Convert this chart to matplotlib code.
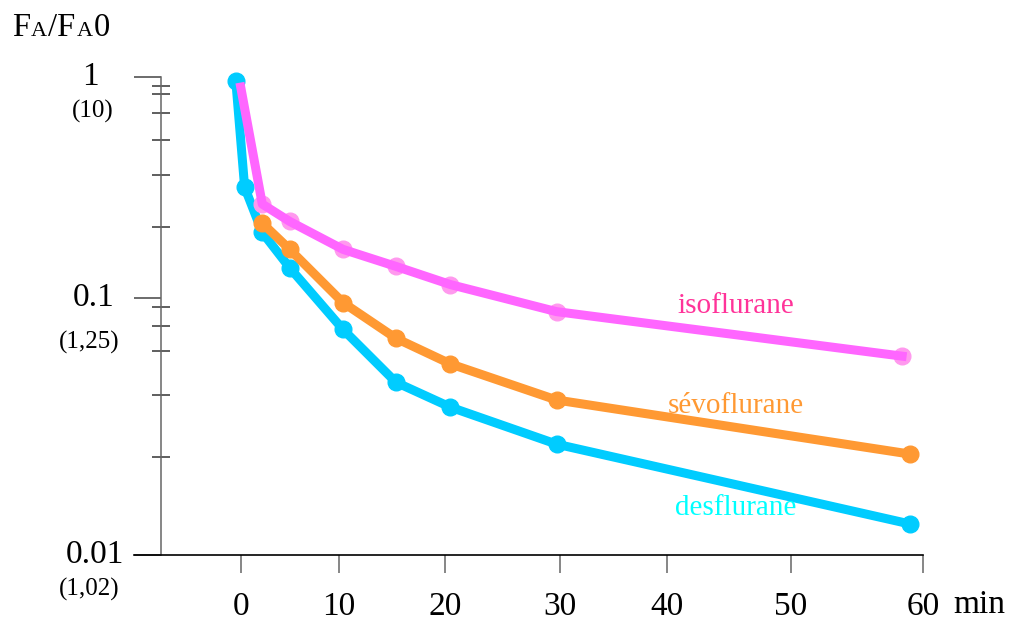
import matplotlib
matplotlib.use("Agg")
import matplotlib.pyplot as plt
import numpy as np

plt.rcParams['font.family'] = ['Liberation Serif', 'DejaVu Serif']

# data (time in min, FA/FA0)
des_t = [-0.5, 0.4, 2.2, 5.0, 10.4, 15.4, 20.5, 29.7, 59.0]
des_y = [0.96, 0.317, 0.198, 0.137, 0.0755, 0.047, 0.0376, 0.027, 0.0132]
sevo_t = [2.2, 5.0, 10.4, 15.4, 20.5, 29.7, 59.0]
sevo_y = [0.218, 0.166, 0.096, 0.0697, 0.0554, 0.0401, 0.0247]
iso_t = [0.0, 2.2, 5.0, 10.4, 15.4, 20.5, 29.7, 58.4]
iso_y = [0.90, 0.266, 0.222, 0.166, 0.139, 0.115, 0.0885, 0.0594]

x_ticks = [0, 10, 20, 30, 40, 50, 60]
y_major = [0.01, 0.1, 1]
y_major_labels = ['0.01', '0.1', '1']
y_sub_labels = ['(1,02)', '(1,25)', '(10)']
y_minor = [0.91, 0.84, 0.69, 0.52, 0.36, 0.21, 0.092, 0.078, 0.062, 0.042, 0.024]

# the hand drawn axes are not evenly spaced -> piecewise scales
XB = np.array([-20, 0, 10, 20, 30, 40, 50, 60, 80])
XP = np.array([-196, 0, 98, 204, 319.3, 426, 550, 682.6, 947.8])
YB = np.array([-3, -2, -1, 0, 1])
YP = np.array([-735, -478, -221, 0, 221])

def xf(x):
    return np.interp(x, XB, XP)

def xi(p):
    return np.interp(p, XP, XB)

def yf(y):
    return np.interp(np.log10(np.clip(y, 1e-6, None)), YB, YP)

def yi(p):
    return 10 ** np.interp(p, YP, YB)

W, H = 1014, 625
fig = plt.figure(figsize=(W / 100, H / 100), dpi=100)
ax = fig.add_axes([134 / W, 70 / H, (923.3 - 134) / W, 478 / H])
ax.set_xscale('function', functions=(xf, xi))
ax.set_yscale('function', functions=(yf, yi))

ax.plot(des_t, des_y, color='#00CCFF', lw=6.5, marker='o', ms=12, clip_on=False, zorder=3)
ax.plot(sevo_t, sevo_y, color='#FF9933', lw=6.5, marker='o', ms=12, clip_on=False, zorder=4)
ax.plot(iso_t[1:], iso_y[1:], ls='none', marker='o', ms=12, color='#FF99EE', clip_on=False, zorder=5)
ax.plot(iso_t, iso_y, color='#FF66FF', lw=6.5, clip_on=False, zorder=6)

ax.set_xlim(-10.89, 60)
ax.set_ylim(0.01, 1)

for s in ['top', 'right']:
    ax.spines[s].set_visible(False)
ax.spines['left'].set_position(('data', -8.13))
ax.spines['left'].set_color('#666666')
ax.spines['left'].set_linewidth(1.1)
ax.spines['bottom'].set_color('black')
ax.spines['bottom'].set_linewidth(1.2)

ax.set_xticks(x_ticks)
ax.set_xticklabels([str(v) for v in x_ticks])
ax.set_yticks(y_major)
ax.set_yticklabels([''] * len(y_major))
ax.set_yticks(y_minor, minor=True)
ax.set_yticklabels([''] * len(y_minor), minor=True)
ax.tick_params(axis='x', direction='out', length=13, width=1.1, color='#666666',
               labelsize=24, pad=13)
ax.tick_params(axis='y', which='major', direction='out', length=19.5, width=1.1, color='#444444')
ax.tick_params(axis='y', which='minor', direction='inout', length=13, width=1.1, color='#333333')

# y labels, placed by hand like the original drawing
main_x = [124, 115, 99]
sub_x = [120, 120, 114]
sub_dy = [-34, -44, -34]
for v, lab, mx, sub, sx, dy in zip(y_major, y_major_labels, main_x, y_sub_labels, sub_x, sub_dy):
    ax.annotate(lab, xy=(mx, v), xycoords=('figure pixels', 'data'), ha='right', va='center',
                fontsize=24, annotation_clip=False)
    ax.annotate(sub, xy=(sx, v), xycoords=('figure pixels', 'data'), xytext=(0, dy * 0.72),
                textcoords='offset points', ha='right', va='center', fontsize=18,
                annotation_clip=False)

fig.text(953 / W, 12 / H, 'min', fontsize=24, va='baseline', ha='left')

# series names
fig.text(736 / W, (H - 313) / H, 'isoflurane', color='#FF3399', fontsize=21, ha='center', va='baseline')
fig.text(736 / W, (H - 413) / H, 'sévoflurane', color='#FF9933', fontsize=21, ha='center', va='baseline')
fig.text(736 / W, (H - 515) / H, 'desflurane', color='#00FFFF', fontsize=21, ha='center', va='baseline')

# FA/FA0 with small capital A
renderer = fig.canvas.get_renderer()
parts = [('F', 23.5), ('A', 16), ('/F', 23.5), ('A', 16), ('0', 23.5)]
x = 12
for s, size in parts:
    t = fig.text(x / W, (H - 36) / H, s, fontsize=size, va='baseline', ha='left')
    bb = t.get_window_extent(renderer)
    x = bb.x1 + 1

fig.savefig('out.png', dpi=100)
